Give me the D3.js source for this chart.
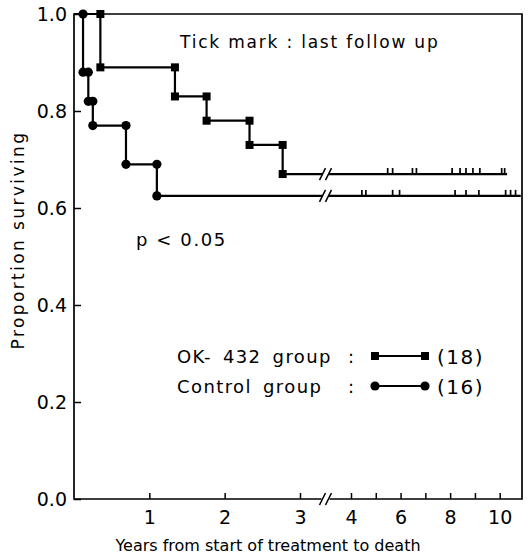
<!DOCTYPE html>
<html>
<head>
<meta charset="utf-8">
<script src="https://cdn.jsdelivr.net/npm/d3@7"></script>
<style>
  body { margin: 0; background: #fff; }
  text { font-family: "DejaVu Sans", sans-serif; fill: #000; }
</style>
</head>
<body>
<div class="chart"></div>
<script>
var svgWidth = 528;
var svgHeight = 559;

// OK-432 group (squares), n = 18
var okTimes = [0, 0.35, 1.34, 1.76, 2.33, 2.77];
var okSurv = [1.0, 0.89, 0.83, 0.78, 0.73, 0.67];
var okCensor = [5.48, 5.68, 6.48, 6.64, 8.08, 8.4, 8.64, 8.92, 9.2, 10.08, 10.2];
var okEnd = 10.3;

// Control group (circles), n = 16
var ctlTimes = [0, 0.12, 0.19, 0.25, 0.69, 1.1];
var ctlSurv = [1.0, 0.88, 0.82, 0.77, 0.69, 0.625];
var ctlCensor = [4.44, 4.6, 5.68, 5.96, 8.2, 8.64, 9.16, 10.24, 10.44, 10.64];
var ctlEnd = 10.85;

// axis ticks
var xTicks = [1, 2, 3, 4, 5, 6, 7, 8, 9, 10];
var xTickLabels = [1, 2, 3, 4, 6, 8, 10];
var yTicks = [0, 0.2, 0.4, 0.6, 0.8, 1.0];
var breakT = 3.5;

var svg = d3.select(".chart")
  .append("svg")
  .attr("width", svgWidth)
  .attr("height", svgHeight);

// broken x scale: 0-3 wide, 4-10 compressed
var x = d3.scaleLinear()
  .domain([0, 3, 4, 10.9])
  .range([74, 300, 351, 522]);

var y = d3.scaleLinear()
  .domain([0, 1])
  .range([499, 14]);

var x0 = x(0), x1 = x.range()[3];
var xb = x(breakT);

// frame with a gap in the bottom line at the break
var frame = svg.append("g")
  .attr("stroke", "#000")
  .attr("stroke-width", 1.7)
  .attr("fill", "none");

frame.append("path")
  .attr("d", `M${xb - 4},${y(0)} H${x0} V${y(1)} H${x1} V${y(0)} H${xb + 4}`);

function breakMarks(cx, cy) {
  [-3, 3].forEach(function(dx) {
    frame.append("line")
      .attr("x1", cx + dx - 3).attr("y1", cy + 6)
      .attr("x2", cx + dx + 3).attr("y2", cy - 6)
      .attr("stroke-width", 1.5);
  });
}
breakMarks(xb, y(0));

// x axis, ticks pointing inward
var xAxis = svg.append("g")
  .attr("transform", `translate(0, ${y(0)})`)
  .call(d3.axisBottom(x)
    .tickValues(xTicks)
    .tickFormat(d => xTickLabels.includes(d) ? d : "")
    .tickSizeInner(-6)
    .tickSizeOuter(0)
    .tickPadding(12));
xAxis.select(".domain").remove();
xAxis.selectAll("line").attr("stroke-width", 1.5);
xAxis.selectAll("text").style("font-size", "19px");

// y axis
var yAxis = svg.append("g")
  .attr("transform", `translate(${x0}, 0)`)
  .call(d3.axisLeft(y)
    .tickValues(yTicks)
    .tickFormat(d3.format(".1f"))
    .tickSizeInner(-7)
    .tickSizeOuter(0)
    .tickPadding(7));
yAxis.select(".domain").remove();
yAxis.selectAll("line").attr("stroke-width", 1.5);
yAxis.selectAll("text").style("font-size", "19px");

// survival curves
var stepLine = d3.line()
  .x(d => x(d[0]))
  .y(d => y(d[1]))
  .curve(d3.curveStepAfter);

function drawCurve(times, surv, censor, tEnd, shape) {
  var g = svg.append("g");
  var pts = times.map((t, i) => [t, surv[i]]);
  pts.push([tEnd, surv[surv.length - 1]]);

  g.append("path")
    .attr("d", stepLine(pts))
    .attr("fill", "none")
    .attr("stroke", "#000")
    .attr("stroke-width", 2.2);

  // gap + break marks on the final horizontal
  var sy = y(surv[surv.length - 1]);
  g.append("rect")
    .attr("x", xb - 3).attr("y", sy - 3)
    .attr("width", 6).attr("height", 6)
    .attr("fill", "#fff");
  [-3, 3].forEach(function(dx) {
    g.append("line")
      .attr("x1", xb + dx - 3).attr("y1", sy + 6)
      .attr("x2", xb + dx + 3).attr("y2", sy - 6)
      .attr("stroke", "#000")
      .attr("stroke-width", 1.5);
  });

  // censor ticks
  g.selectAll(".cens")
    .data(censor)
    .enter()
    .append("line")
    .attr("x1", d => x(d)).attr("x2", d => x(d))
    .attr("y1", sy).attr("y2", sy - 6)
    .attr("stroke", "#000")
    .attr("stroke-width", 1.7);

  // markers at each step corner
  var marks = [];
  for (var i = 1; i < times.length; i++) {
    marks.push([times[i], surv[i - 1]]);
    marks.push([times[i], surv[i]]);
  }
  if (shape === "square") {
    g.selectAll(".m")
      .data(marks)
      .enter()
      .append("rect")
      .attr("x", d => x(d[0]) - 4)
      .attr("y", d => y(d[1]) - 4)
      .attr("width", 8).attr("height", 8)
      .attr("fill", "#000");
  } else {
    g.selectAll(".m")
      .data(marks)
      .enter()
      .append("circle")
      .attr("cx", d => x(d[0]))
      .attr("cy", d => y(d[1]))
      .attr("r", 4.6)
      .attr("fill", "#000");
  }
}

drawCurve(okTimes, okSurv, okCensor, okEnd, "square");
drawCurve(ctlTimes, ctlSurv, ctlCensor, ctlEnd, "circle");

// annotations
svg.append("text")
  .attr("x", 180).attr("y", 48)
  .style("font-size", "17px")
  .style("letter-spacing", "1.8px")
  .text("Tick mark : last follow up");

svg.append("text")
  .attr("x", 136).attr("y", 246)
  .style("font-size", "18px")
  .style("letter-spacing", "1.6px")
  .text("p < 0.05");

// legend
var legendRows = [
  { label: "OK- 432 group", n: "(18)", shape: "square", y: 356 },
  { label: "Control group", n: "(16)", shape: "circle", y: 386 }
];
legendRows.forEach(function(r) {
  svg.append("text")
    .attr("x", 177).attr("y", r.y + 7)
    .style("font-size", "18px")
    .style("letter-spacing", "1.4px")
    .style("word-spacing", "4px")
    .text(r.label);
  svg.append("text")
    .attr("x", 348).attr("y", r.y + 7)
    .style("font-size", "18px")
    .text(":");
  svg.append("line")
    .attr("x1", 375).attr("x2", 425)
    .attr("y1", r.y).attr("y2", r.y)
    .attr("stroke", "#000")
    .attr("stroke-width", 2);
  [375, 425].forEach(function(cx) {
    if (r.shape === "square") {
      svg.append("rect")
        .attr("x", cx - 4).attr("y", r.y - 4)
        .attr("width", 8).attr("height", 8)
        .attr("fill", "#000");
    } else {
      svg.append("circle")
        .attr("cx", cx).attr("cy", r.y)
        .attr("r", 4.6)
        .attr("fill", "#000");
    }
  });
  svg.append("text")
    .attr("x", 437).attr("y", r.y + 8)
    .style("font-size", "20px")
    .style("letter-spacing", "1.5px")
    .text(r.n);
});

// axis titles
svg.append("text")
  .attr("x", 268).attr("y", 551)
  .attr("text-anchor", "middle")
  .style("font-size", "16px")
  .text("Years from start of treatment to death");

svg.append("text")
  .attr("transform", "translate(24, 240) rotate(-90)")
  .attr("text-anchor", "middle")
  .style("font-size", "17px")
  .style("letter-spacing", "2.4px")
  .text("Proportion surviving");
</script>
</body>
</html>
